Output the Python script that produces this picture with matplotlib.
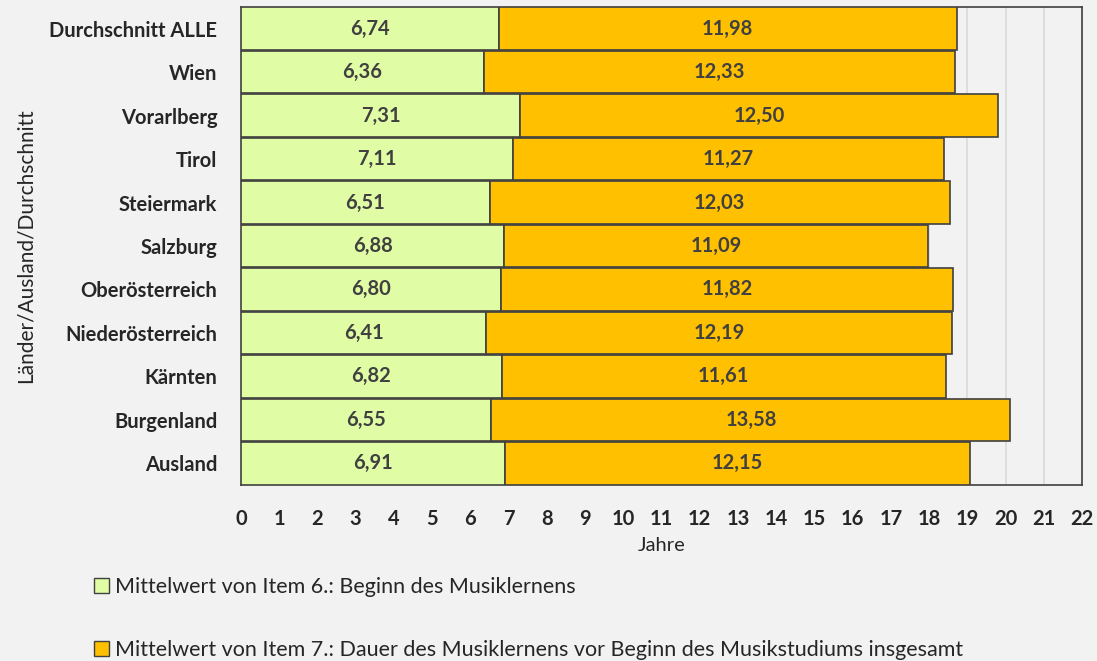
import matplotlib.pyplot as plt
from matplotlib.patches import Patch

# Categories from bottom to top
regions = ['Ausland', 'Burgenland', 'Kärnten', 'Niederösterreich', 'Oberösterreich',
           'Salzburg', 'Steiermark', 'Tirol', 'Vorarlberg', 'Wien', 'Durchschnitt ALLE']
beginn = [6.91, 6.55, 6.82, 6.41, 6.80, 6.88, 6.51, 7.11, 7.31, 6.36, 6.74]
dauer = [12.15, 13.58, 11.61, 12.19, 11.82, 11.09, 12.03, 11.27, 12.50, 12.33, 11.98]
x_ticks = list(range(0, 23))

label_beginn = 'Mittelwert von Item 6.: Beginn des Musiklernens'
label_dauer = 'Mittelwert von Item 7.: Dauer des Musiklernens vor Beginn des Musikstudiums insgesamt'

plt.rcParams['font.family'] = ['Lato', 'DejaVu Sans']
bg = '#f2f2f2'
txt = '#262626'
green = '#e0fca4'
orange = '#ffc000'
fs = 14.5

fig = plt.figure(figsize=(10.97, 6.61), dpi=100, facecolor=bg)
ax = fig.add_axes([0.2197, 0.2663, 0.7666, 0.7231], facecolor=bg)

ax.barh(regions, beginn, height=0.98, color=green, edgecolor='#404040', linewidth=1.2, zorder=3)
ax.barh(regions, dauer, left=beginn, height=0.98, color=orange, edgecolor='#404040', linewidth=1.2, zorder=3)

for i, (b, d) in enumerate(zip(beginn, dauer)):
    ax.text(b / 2, i, f'{b:.2f}'.replace('.', ','), ha='center', va='center',
            fontsize=fs, fontweight='bold', color='#404040', zorder=4)
    ax.text(b + d / 2, i, f'{d:.2f}'.replace('.', ','), ha='center', va='center',
            fontsize=fs, fontweight='bold', color='#404040', zorder=4)

ax.set_xlim(0, 22)
ax.set_ylim(-0.5, len(regions) - 0.5)
ax.set_xticks(x_ticks)
ax.tick_params(axis='x', length=0, labelsize=fs, colors=txt, pad=17)
ax.tick_params(axis='y', length=0, labelsize=fs, pad=17)
for lab in ax.get_yticklabels():
    lab.set_fontweight('bold')
    lab.set_color(txt)
for lab in ax.get_xticklabels():
    lab.set_fontweight('bold')

ax.grid(axis='x', color='#d9d9d9', linewidth=1.2, zorder=0)
for s in ax.spines.values():
    s.set_color('#404040')
    s.set_linewidth(1.2)

ax.set_xlabel('Jahre', fontsize=fs, color=txt, labelpad=6)
fig.text(0.023, 0.6285, 'Länder/Ausland/Durchschnitt', rotation=90, ha='center', va='center',
         fontsize=fs + 0.5, color=txt)

handles = [Patch(facecolor=green, edgecolor='#404040', label=label_beginn),
           Patch(facecolor=orange, edgecolor='#404040', label=label_dauer)]
leg = fig.legend(handles=handles, loc='upper left', bbox_to_anchor=(0.078, 0.14),
                 bbox_transform=fig.transFigure, frameon=False, fontsize=fs + 1,
                 handlelength=0.7, handleheight=0.7, handletextpad=0.25, labelspacing=2.0,
                 borderaxespad=0)
for t in leg.get_texts():
    t.set_color(txt)

fig.savefig('out.png', dpi=100, facecolor=bg)
